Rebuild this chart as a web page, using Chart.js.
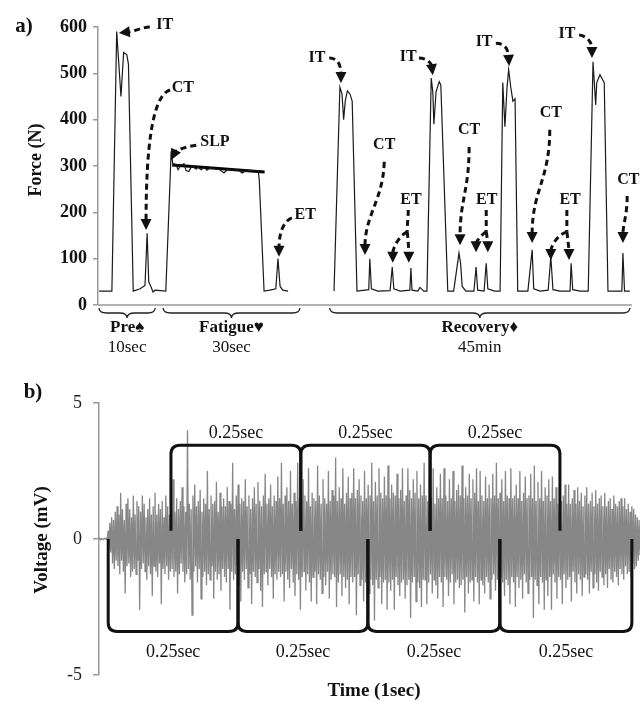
<!DOCTYPE html>
<html>
<head>
<meta charset="utf-8">
<script src="https://cdn.jsdelivr.net/npm/chart.js@4.4.1/dist/chart.umd.min.js"></script>
<style>
  body { margin: 0; background: #fff; }
  #wrap { position: relative; width: 642px; height: 702px; }
  canvas { position: absolute; left: 0; }
  #forceChart { top: 0; }
  #emgChart { top: 360px; }
</style>
</head>
<body>
<div id="wrap">
  <canvas id="forceChart" width="642" height="360"></canvas>
  <canvas id="emgChart" width="642" height="342"></canvas>
</div>
<script>
const SERIF = '"Liberation Serif", "Times New Roman", serif';

// ---- panel a: force trace (time in arbitrary trace units, force in N) ----
const forceTime = [
  0.2, 2.6, 3.5, 4.3, 4.8, 5.4, 5.7, 6.6, 7.9, 8.8, 9.2, 9.5, 9.9, 10.3, 10.7, 12.7,
  13.7, 14.0, 14.6, 15.0, 15.4, 16.1, 16.5, 17.0, 17.6, 18.4, 18.7, 19.3, 19.9, 20.4, 21.0, 21.9,
  22.8, 23.6, 24.3, 25.3, 26.2, 27.0, 27.9, 29.0, 30.0, 30.2, 31.1, 32.2, 33.3, 33.7, 34.1, 34.6, 35.6,
  40,
  44.2, 45.3, 45.7, 46.0, 46.3, 46.7, 47.2, 47.6, 48.5, 50.0, 50.7, 50.9, 51.2, 52.4, 54.7, 55.1,
  55.4, 56.6, 58.4, 58.6, 58.8, 59.9, 60.3, 61.0, 61.6,
  62.4, 62.7, 62.9, 63.3, 63.9, 64.2, 65.5, 66.6, 67.6, 67.9, 68.2, 68.9, 70.4, 70.8, 71.1, 72.3,
  72.7, 73.0, 74.3, 75.3,
  75.8, 76.2, 76.6, 76.9, 77.3, 77.7, 78.1, 78.6, 80.5, 81.3, 81.6, 82.8, 84.3, 84.8, 85.2, 86.5,
  88.4, 88.6, 88.9, 90.3, 91.8,
  92.7, 93.2, 93.4, 94.0, 94.8, 95.5, 97.0, 98.1, 98.3, 98.6, 99.6
];
const forceN = [
  30, 30, 590, 450, 545, 540, 520, 30, 35, 42, 155, 50, 40, 28, 32, 30,
  332, 305, 303, 292, 300, 305, 290, 288, 300, 293, 298, 292, 297, 291, 296, 294,
  292, 285, 293, 291, 292, 285, 291, 290, 290, 270, 30, 32, 35, 100, 40, 32, 30,
  null,
  30, 470, 455, 400, 440, 462, 455, 440, 30, 32, 33, 100, 35, 30, 31, 82,
  35, 30, 32, 80, 32, 30, 38, 30, 30,
  490, 460, 390, 460, 482, 475, 30, 30, 112, 90, 40, 30, 30, 82, 32, 30,
  90, 35, 30, 30,
  480, 385, 470, 508, 470, 440, 445, 30, 30, 119, 35, 30, 32, 104, 33, 30,
  30, 90, 33, 30, 30,
  525, 432, 480, 497, 480, 30, 30, 30, 112, 30, 30
];
const slpTime = [13.9, 31.2];
const slpN = [302, 287];
const forceTicks = [0, 100, 200, 300, 400, 500, 600];

const phaseNames = ['Pre\u2660', 'Fatigue\u2665', 'Recovery\u2666'];
const phaseLengths = ['10sec', '30sec', '45min'];
const phaseFrom = [0.2, 12.2, 43.4];
const phaseTo = [10.7, 37.8, 99.6];

// callouts: label position and dashed arrows, all in data units
const callouts = [
  { text: 'IT', at: [12.5, 604], arrows: [[[9.7, 600], [8.4, 600], [7.1, 591], [3.9, 587]]] },
  { text: 'CT', at: [15.9, 468], arrows: [[[13.5, 464], [10.1, 453], [9.0, 334], [9.0, 162]]] },
  { text: 'SLP', at: [21.9, 352], arrows: [[[18.4, 345], [16.3, 341], [14.6, 334], [13.7, 313]]] },
  { text: 'ET', at: [38.8, 194], arrows: [[[36.3, 188], [34.5, 179], [33.9, 151], [33.9, 104]]] },
  { text: 'IT', at: [41.0, 533], arrows: [[[43.3, 533], [44.9, 533], [45.5, 518], [45.5, 479]]] },
  { text: 'CT', at: [53.6, 345], arrows: [[[53.6, 309], [53.4, 227], [50.0, 194], [50.0, 108]]] },
  { text: 'ET', at: [58.6, 227], stem: [[58.1, 205], [58.1, 190], [57.9, 175], [57.9, 158]],
    arrows: [[[57.9, 158], [56.5, 150], [55.2, 125], [55.2, 91]], [[57.9, 158], [58.1, 140], [58.2, 120], [58.2, 91]]] },
  { text: 'IT', at: [58.1, 535], arrows: [[[60.1, 533], [61.4, 533], [62.4, 524], [62.7, 496]]] },
  { text: 'CT', at: [69.5, 378], arrows: [[[69.5, 341], [69.5, 248], [67.8, 227], [67.8, 129]]] },
  { text: 'ET', at: [72.8, 227], stem: [[72.7, 205], [72.7, 190], [72.7, 175], [72.7, 158]],
    arrows: [[[72.7, 158], [71.6, 150], [70.8, 135], [70.8, 114]], [[72.7, 158], [72.9, 145], [73.0, 130], [73.0, 114]]] },
  { text: 'IT', at: [72.3, 568], arrows: [[[74.5, 565], [76.0, 565], [76.8, 555], [77.0, 516]]] },
  { text: 'CT', at: [84.8, 414], arrows: [[[84.6, 378], [84.6, 270], [81.3, 248], [81.3, 134]]] },
  { text: 'ET', at: [88.4, 227], stem: [[87.8, 205], [87.8, 190], [87.8, 175], [87.8, 158]],
    arrows: [[[87.8, 158], [85.8, 150], [84.8, 125], [84.8, 97]], [[87.8, 158], [88.0, 140], [88.2, 120], [88.2, 97]]] },
  { text: 'IT', at: [87.8, 585], arrows: [[[90.1, 583], [91.6, 580], [92.5, 568], [92.5, 533]]] },
  { text: 'CT', at: [99.3, 270], arrows: [[[99.1, 235], [99.1, 194], [98.3, 173], [98.3, 134]]] }
];

// ---- panel b: EMG over 1 sec (mV, evenly sampled) ----
const emgVolts = [
  0, 0.02, -0.03, 0.02, 0, -0.02, 0.03, 0, 0.02, -0.02, 0.3, -0.4, 0.6, -0.5, 0.8, -0.9, 0.7, -1.1, 1.0, -0.8,
  1.2, -1.0, 0.9, -1.3, 1.7, -0.8, 1.1, -1.2, 0.7, -2.0, 1.3, -1.0, 1.5, -0.9, 1.1, -1.4, 0.8, -1.2, 1.6, -1.1,
  0.9, -1.3, 1.4, -0.8, 1.2, -2.6, 1.0, -1.1, 1.6, -0.9, 1.3, -1.2, 0.8, -1.5, 1.1, -1.0, 1.5, -1.3, 0.9, -2.1,
  1.2, -1.0, 1.7, -1.2, 0.9, -1.4, 1.3, -0.9, 1.1, -2.4, 1.4, -1.1, 0.8, -1.3, 1.6, -1.0, 1.2, -1.5, 0.9, -1.2,
  1.3, -1.1, 2.2, -1.4, 1.0, -1.2, 1.5, -2.0, 1.1, -1.3, 1.4, -0.9, 1.9, -1.2, 1.2, -1.6, 1.0, -1.3, 4.0, -1.1,
  1.3, -1.5, 1.1, -2.8, 1.6, -1.2, 2.0, -1.0, 1.2, -1.6, 1.4, -1.1, 1.8, -2.2, 1.0, -1.4, 1.5, -1.2, 1.3, -1.7,
  2.5, -1.3, 1.1, -1.5, 1.6, -1.0, 1.3, -2.2, 1.4, -1.2, 2.1, -1.5, 1.0, -1.3, 1.7, -1.9, 1.2, -1.1, 1.5, -1.4,
  1.2, -1.6, 1.9, -1.1, 1.4, -2.6, 1.3, -1.2, 2.8, -1.5, 1.1, -1.3, 1.6, -1.0, 2.0, -1.7, 1.3, -2.3, 1.5, -1.2,
  1.4, -1.5, 2.2, -1.1, 1.2, -1.8, 1.6, -1.3, 1.1, -2.4, 1.5, -1.2, 1.9, -1.4, 1.3, -1.6, 2.1, -1.1, 1.4, -1.9,
  1.2, -2.5, 1.6, -1.3, 2.4, -1.2, 1.3, -1.7, 1.5, -1.1, 2.0, -1.4, 1.2, -2.2, 1.6, -1.3, 1.4, -1.5, 2.3, -1.2,
  1.5, -1.4, 2.8, -1.3, 1.3, -2.3, 1.6, -1.2, 1.9, -1.5, 1.4, -1.8, 2.5, -1.1, 1.3, -1.6, 1.7, -2.1, 1.4, -1.3,
  2.8, -1.5, 1.5, -2.6, 1.3, -1.4, 2.2, -1.2, 1.6, -1.9, 1.4, -1.3, 2.6, -1.6, 1.2, -2.3, 1.7, -1.4, 1.5, -1.2,
  1.4, -2.4, 2.7, -1.3, 1.6, -1.5, 1.3, -2.0, 2.2, -1.4, 1.5, -1.7, 1.3, -1.2, 2.5, -2.2, 1.4, -1.5, 1.8, -1.3,
  1.6, -1.4, 3.0, -2.5, 1.4, -1.6, 1.9, -1.3, 1.5, -2.1, 2.6, -1.4, 1.3, -1.8, 1.7, -1.5, 2.3, -2.4, 1.5, -1.4,
  1.7, -1.6, 2.6, -1.4, 1.5, -2.8, 1.8, -1.3, 2.2, -1.7, 1.6, -1.5, 1.4, -2.3, 2.5, -1.6, 1.5, -1.4, 2.0, -2.0,
  1.6, -1.5, 2.8, -1.7, 1.4, -3.0, 2.1, -1.5, 1.6, -1.8, 2.6, -1.4, 1.7, -2.4, 1.5, -1.6, 2.3, -1.5, 1.6, -2.6,
  2.7, -1.6, 1.5, -1.9, 2.0, -1.5, 1.7, -2.6, 1.6, -1.4, 2.4, -1.7, 1.5, -2.1, 1.8, -1.6, 2.6, -1.5, 1.4, -2.2,
  1.6, -1.7, 2.6, -1.5, 1.8, -2.9, 1.5, -1.6, 2.2, -1.4, 1.7, -2.3, 2.5, -1.6, 1.5, -1.8, 2.0, -2.5, 1.6, -1.5,
  2.8, -1.5, 1.6, -2.4, 1.4, -1.6, 2.3, -1.3, 1.5, -2.0, 2.6, -1.5, 1.3, -1.7, 1.9, -2.2, 1.5, -1.4, 2.4, -1.6,
  1.5, -2.5, 2.6, -1.4, 1.6, -1.5, 1.4, -2.1, 2.2, -1.6, 1.5, -1.3, 2.5, -2.4, 1.4, -1.6, 1.8, -1.5, 2.0, -1.8,
  1.6, -1.7, 2.7, -1.5, 1.5, -2.7, 1.9, -1.4, 1.6, -2.0, 2.4, -1.6, 1.5, -1.5, 2.2, -2.3, 1.7, -1.4, 2.6, -1.6,
  1.4, -2.4, 2.5, -1.5, 1.6, -1.7, 1.4, -2.0, 2.3, -1.4, 1.5, -1.6, 2.0, -2.2, 1.5, -1.5, 2.4, -1.3, 1.6, -1.9,
  2.8, -1.5, 1.5, -2.6, 1.7, -1.4, 2.2, -1.6, 1.4, -2.1, 2.5, -1.5, 1.6, -1.7, 1.5, -2.4, 2.6, -1.4, 1.5, -1.6,
  1.6, -2.5, 2.0, -1.4, 1.5, -1.8, 2.5, -1.5, 1.4, -2.2, 1.7, -1.3, 2.3, -1.6, 1.5, -2.0, 1.6, -1.5, 2.4, -1.4,
  1.5, -2.9, 2.7, -1.5, 1.4, -1.7, 2.1, -2.4, 1.5, -1.4, 2.5, -1.6, 1.4, -2.6, 1.9, -1.5, 1.6, -2.1, 2.2, -1.4,
  1.4, -2.6, 2.3, -1.3, 1.5, -1.6, 1.9, -2.2, 1.3, -1.4, 2.1, -1.5, 1.4, -2.4, 1.6, -1.3, 2.0, -1.8, 1.3, -1.5,
  2.0, -1.4, 1.3, -2.3, 1.5, -1.2, 1.8, -1.6, 1.3, -2.0, 1.9, -1.3, 1.4, -1.5, 1.7, -2.1, 1.2, -1.4, 1.6, -1.3,
  1.9, -1.5, 1.3, -2.0, 1.4, -1.2, 1.7, -1.8, 1.2, -1.3, 1.8, -1.6, 1.3, -1.9, 1.5, -1.2, 1.6, -1.4, 1.2, -1.7,
  1.7, -1.3, 1.2, -1.8, 1.4, -1.1, 1.5, -1.5, 1.1, -1.6, 1.6, -1.2, 1.3, -1.4, 1.2, -1.7, 1.4, -1.1, 1.5, -1.3,
  1.2, -1.5, 1.5, -1.0, 1.1, -1.3, 1.3, -1.2, 1.0, -1.4, 1.2, -0.9, 1.1, -1.1, 0.9, -1.0, 0.8, -0.8, 0.7, -0.6
];
const emgSamplesPerSec = emgVolts.length - 1;
const voltTicks = [-5, 0, 5];
const upperWindows = [[0.133, 0.373], [0.373, 0.612], [0.612, 0.852]];
const lowerWindows = [[0.017, 0.257], [0.257, 0.497], [0.497, 0.741], [0.741, 0.985]];
const windowLabel = '0.25sec';

// ---- drawing helpers ----
function arrowHead(ctx, tip, from) {
  const a = Math.atan2(tip[1] - from[1], tip[0] - from[0]);
  const len = 11, half = 5.5;
  const bx = tip[0] - len * Math.cos(a), by = tip[1] - len * Math.sin(a);
  ctx.beginPath();
  ctx.moveTo(tip[0], tip[1]);
  ctx.lineTo(bx + half * Math.sin(a), by - half * Math.cos(a));
  ctx.lineTo(bx - half * Math.sin(a), by + half * Math.cos(a));
  ctx.closePath();
  ctx.fill();
  return [bx + 2 * Math.cos(a), by + 2 * Math.sin(a)];
}

function dashedCurve(ctx, p0, c1, c2, p3) {
  ctx.beginPath();
  ctx.moveTo(p0[0], p0[1]);
  ctx.bezierCurveTo(c1[0], c1[1], c2[0], c2[1], p3[0], p3[1]);
  ctx.stroke();
}

function brace(ctx, x1, x2, yTop, h) {
  const xm = (x1 + x2) / 2, r = h / 2;
  ctx.beginPath();
  ctx.moveTo(x1, yTop);
  ctx.quadraticCurveTo(x1, yTop + r, x1 + r * 1.5, yTop + r);
  ctx.lineTo(xm - r * 1.5, yTop + r);
  ctx.quadraticCurveTo(xm, yTop + r, xm, yTop + h);
  ctx.quadraticCurveTo(xm, yTop + r, xm + r * 1.5, yTop + r);
  ctx.lineTo(x2 - r * 1.5, yTop + r);
  ctx.quadraticCurveTo(x2, yTop + r, x2, yTop);
  ctx.stroke();
}

function bracket(ctx, x1, x2, yFoot, yBar) {
  const r = 9, s = Math.sign(yFoot - yBar);
  ctx.beginPath();
  ctx.moveTo(x1, yFoot);
  ctx.lineTo(x1, yBar + r * s);
  ctx.quadraticCurveTo(x1, yBar, x1 + r, yBar);
  ctx.lineTo(x2 - r, yBar);
  ctx.quadraticCurveTo(x2, yBar, x2, yBar + r * s);
  ctx.lineTo(x2, yFoot);
  ctx.stroke();
}

function vTitle(ctx, text, x, y, font) {
  ctx.save();
  ctx.translate(x, y);
  ctx.rotate(-Math.PI / 2);
  ctx.font = font;
  ctx.textAlign = 'center';
  ctx.textBaseline = 'middle';
  ctx.fillText(text, 0, 0);
  ctx.restore();
}

const forceOverlay = {
  id: 'forceOverlay',
  afterDatasetsDraw(chart) {
    const { ctx, chartArea, scales: { x, y } } = chart;
    const px = p => [x.getPixelForValue(p[0]), y.getPixelForValue(p[1])];
    ctx.save();

    // x axis line
    ctx.strokeStyle = '#9a9a9a';
    ctx.lineWidth = 1.5;
    ctx.beginPath();
    ctx.moveTo(chartArea.left, y.getPixelForValue(0));
    ctx.lineTo(chartArea.right, y.getPixelForValue(0));
    ctx.stroke();

    // phase braces and labels
    const base = y.getPixelForValue(0);
    ctx.strokeStyle = '#222';
    ctx.lineWidth = 1.3;
    ctx.fillStyle = '#111';
    ctx.textAlign = 'center';
    ctx.textBaseline = 'middle';
    phaseNames.forEach((name, i) => {
      const x1 = x.getPixelForValue(phaseFrom[i]), x2 = x.getPixelForValue(phaseTo[i]);
      brace(ctx, x1, x2, base + 3, 10);
      ctx.font = 'bold 17px ' + SERIF;
      ctx.fillText(name, (x1 + x2) / 2, base + 23);
      ctx.font = '17px ' + SERIF;
      ctx.fillText(phaseLengths[i], (x1 + x2) / 2, base + 43);
    });

    // callouts
    ctx.fillStyle = '#111';
    ctx.strokeStyle = '#111';
    ctx.lineWidth = 3;
    callouts.forEach(c => {
      ctx.font = 'bold 16px ' + SERIF;
      ctx.setLineDash([]);
      const t = px(c.at);
      ctx.fillText(c.text, t[0], t[1]);
      if (c.stem) {
        ctx.setLineDash([6, 4]);
        const s = c.stem.map(px);
        dashedCurve(ctx, s[0], s[1], s[2], s[3]);
      }
      c.arrows.forEach(a => {
        const p = a.map(px);
        ctx.setLineDash([]);
        const end = arrowHead(ctx, p[3], p[2]);
        ctx.setLineDash([6, 4]);
        dashedCurve(ctx, p[0], p[1], p[2], end);
      });
    });
    ctx.setLineDash([]);

    // titles
    ctx.fillStyle = '#111';
    vTitle(ctx, 'Force (N)', 36, 160, 'bold 18px ' + SERIF);
    ctx.font = 'bold 21px ' + SERIF;
    ctx.textAlign = 'center';
    ctx.fillText('a)', 24, 27);
    ctx.restore();
  }
};

const emgOverlay = {
  id: 'emgOverlay',
  afterDatasetsDraw(chart) {
    const { ctx, scales: { x, y } } = chart;
    ctx.save();
    ctx.strokeStyle = '#111';
    ctx.lineWidth = 3;
    ctx.lineJoin = 'round';
    ctx.fillStyle = '#111';
    ctx.font = '18px ' + SERIF;
    ctx.textAlign = 'center';
    ctx.textBaseline = 'middle';
    upperWindows.forEach(([a, b]) => {
      const x1 = x.getPixelForValue(a), x2 = x.getPixelForValue(b);
      bracket(ctx, x1, x2, y.getPixelForValue(0.3), y.getPixelForValue(3.45));
      ctx.fillText(windowLabel, (x1 + x2) / 2, y.getPixelForValue(3.9));
    });
    lowerWindows.forEach(([a, b]) => {
      const x1 = x.getPixelForValue(a), x2 = x.getPixelForValue(b);
      bracket(ctx, x1, x2, y.getPixelForValue(0), y.getPixelForValue(-3.4));
      ctx.fillText(windowLabel, (x1 + x2) / 2, y.getPixelForValue(-4.15));
    });

    vTitle(ctx, 'Voltage (mV)', 42, 180, 'bold 19px ' + SERIF);
    ctx.font = 'bold 19px ' + SERIF;
    ctx.fillText('Time (1sec)', 374, 331);
    ctx.font = 'bold 21px ' + SERIF;
    ctx.fillText('b)', 33, 33);
    ctx.restore();
  }
};

new Chart(document.getElementById('forceChart'), {
  type: 'line',
  data: {
    datasets: [
      {
        data: forceTime.map((t, i) => ({ x: t, y: forceN[i] })),
        borderColor: '#1a1a1a',
        borderWidth: 1.2,
        pointRadius: 0,
        spanGaps: false,
      },
      {
        data: slpTime.map((t, i) => ({ x: t, y: slpN[i] })),
        borderColor: '#000',
        borderWidth: 3,
        pointRadius: 0,
      },
    ],
  },
  options: {
    responsive: false,
    animation: false,
    devicePixelRatio: 1,
    layout: { padding: { top: 27, bottom: 55, left: 0, right: 10 } },
    plugins: { legend: { display: false }, tooltip: { enabled: false } },
    scales: {
      x: { type: 'linear', min: 0, max: 100, display: false },
      y: {
        min: 0,
        max: 600,
        afterFit: s => { s.width = 98; },
        afterBuildTicks: s => { s.ticks = forceTicks.map(v => ({ value: v })); },
        ticks: { color: '#111', padding: 6, font: { family: SERIF, size: 18, weight: 'bold' } },
        grid: { drawOnChartArea: false, tickLength: 5, color: '#9a9a9a', lineWidth: 1.5 },
        border: { color: '#9a9a9a', width: 1.5 },
      },
    },
  },
  plugins: [forceOverlay],
});

new Chart(document.getElementById('emgChart'), {
  type: 'line',
  data: {
    datasets: [{
      data: emgVolts.map((v, i) => ({ x: i / emgSamplesPerSec, y: v })),
      borderColor: '#878787',
      borderWidth: 1.3,
      pointRadius: 0,
    }],
  },
  options: {
    responsive: false,
    animation: false,
    devicePixelRatio: 1,
    layout: { padding: { top: 43, bottom: 27, left: 0, right: 2 } },
    plugins: { legend: { display: false }, tooltip: { enabled: false } },
    scales: {
      x: { type: 'linear', min: 0, max: 1, display: false },
      y: {
        min: -5,
        max: 5,
        afterFit: s => { s.width = 99; },
        afterBuildTicks: s => { s.ticks = voltTicks.map(v => ({ value: v })); },
        ticks: { color: '#222', padding: 11, font: { family: SERIF, size: 18 } },
        grid: { drawOnChartArea: false, tickLength: 6, color: '#9a9a9a', lineWidth: 1.5 },
        border: { color: '#9a9a9a', width: 1.5 },
      },
    },
  },
  plugins: [emgOverlay],
});
</script>
</body>
</html>
